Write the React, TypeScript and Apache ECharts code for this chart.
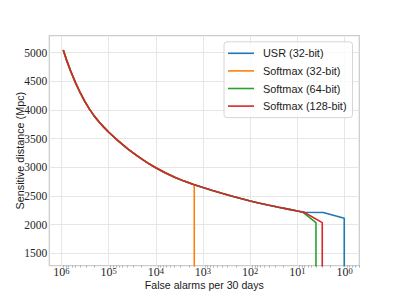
import React, { useEffect, useRef } from "react";
import * as echarts from "echarts";

// False alarms per 30 days (shared part of every curve) and sensitive distance (Mpc)
const sharedFar = [908000, 759000, 631000, 501000, 398000, 316000, 251000, 200000, 158000, 126000, 100000, 63100, 39800, 25100, 15800, 10000, 6310, 3980, 2510, 1580, 1000, 631, 398, 251, 158, 100, 63.1, 39.8, 25.1, 15.8, 10.0];
const sharedDist = [5047, 4852, 4676, 4477, 4301, 4146, 4011, 3893, 3791, 3701, 3616, 3464, 3327, 3203, 3091, 2992, 2904, 2828, 2759, 2700, 2646, 2594, 2546, 2498, 2454, 2412, 2373, 2337, 2303, 2270, 2239];

const usrTailFar = [6.92, 2.84, 1.02, 1.02];
const usrTailDist = [2216, 2212, 2110, 1000];

const sm32Cut = 1530;
const sm32TailFar = [1530, 1530];
const sm32TailDist = [2695, 1000];

const sm64TailFar = [7.5, 4.05, 4.05];
const sm64TailDist = [2211, 2034, 1000];

const sm128TailFar = [6.92, 2.98, 2.98];
const sm128TailDist = [2208, 2034, 1000];

const seriesNames = ["USR (32-bit)", "Softmax (32-bit)", "Softmax (64-bit)", "Softmax (128-bit)"];
const colors = ["#1f77b4", "#ff7f0e", "#2ca02c", "#d62728"];

const xMajorExp = [0, 1, 2, 3, 4, 5, 6];
const yTicks = [1500, 2000, 2500, 3000, 3500, 4000, 4500, 5000];

const xMinLog = -0.31;
const xMaxLog = 6.254;
const yMin = 1285;
const yMax = 5296;

function build(far: number[], dist: number[]) {
  return far.map((f, i) => [Math.log10(f), dist[i]]);
}

export default function App() {
  const ref = useRef<HTMLDivElement>(null);
  useEffect(() => {
    if (!ref.current) return;
    const chart = echarts.init(ref.current, undefined, { renderer: "svg" });

    const sharedCut = sharedFar.filter((f) => f > sm32Cut).length;
    const data = [
      build([...sharedFar, ...usrTailFar], [...sharedDist, ...usrTailDist]),
      build([...sharedFar.slice(0, sharedCut), ...sm32TailFar], [...sharedDist.slice(0, sharedCut), ...sm32TailDist]),
      build([...sharedFar, ...sm64TailFar], [...sharedDist, ...sm64TailDist]),
      build([...sharedFar, ...sm128TailFar], [...sharedDist, ...sm128TailDist]),
    ];

    const minor: number[] = [];
    for (let n = -1; n <= 6; n++) {
      for (let k = 2; k <= 9; k++) {
        const v = Math.log10(k * Math.pow(10, n));
        if (v > xMinLog && v < xMaxLog) minor.push(v);
      }
    }

    const gridColor = "#e3e3e3";

    chart.setOption({
      animation: false,
      backgroundColor: "#ffffff",
      grid: {
        left: 49.3,
        right: 39.7,
        top: 35.7,
        bottom: 33.4,
        show: true,
        borderColor: "#cccccc",
        borderWidth: 1.25,
        backgroundColor: "transparent",
        outerBoundsMode: "none",
        containLabel: false,
      },
      xAxis: [
        {
          type: "value",
          min: xMinLog,
          max: xMaxLog,
          inverse: true,
          name: "False alarms per 30 days",
          nameLocation: "middle",
          nameGap: 13.5,
          nameMoveOverlap: false,
          nameTextStyle: { fontFamily: "Liberation Sans", fontSize: 10.6, lineHeight: 11, color: "#1a1a1a" },
          axisLine: { show: false },
          splitLine: { show: false },
          axisTick: { show: false },
          axisLabel: {
            customValues: xMajorExp,
            margin: 0.5,
            formatter: (v: number) => `{b|10}{s|${Math.round(v)}}`,
            rich: {
              b: { fontFamily: "Liberation Serif", fontSize: 12, lineHeight: 12, color: "#262626", verticalAlign: "bottom" },
              s: { fontFamily: "Liberation Serif", fontSize: 8.5, lineHeight: 8, color: "#262626", verticalAlign: "top" },
            },
          },
        },
        {
          type: "value",
          min: xMinLog,
          max: xMaxLog,
          inverse: true,
          position: "bottom",
          axisLine: { show: false },
          splitLine: { show: false },
          axisLabel: { show: false },
          axisTick: {
            show: true,
            customValues: minor,
            length: 2,
            lineStyle: { color: "#888888", width: 0.6 },
          },
        },
      ],
      yAxis: {
        type: "value",
        min: yMin,
        max: yMax,
        name: "Sensitive distance (Mpc)",
        nameLocation: "middle",
        nameGap: 24,
        nameMoveOverlap: false,
        nameTextStyle: { fontFamily: "Liberation Sans", fontSize: 10.8, color: "#1a1a1a" },
        axisLine: { show: false },
        axisTick: { show: false },
        splitLine: { show: false },
        axisLabel: {
          customValues: yTicks,
          margin: 2,
          formatter: (v: number) => String(v),
          fontFamily: "Liberation Serif",
          fontSize: 11.5,
          color: "#262626",
        },
      },
      legend: {
        orient: "vertical",
        left: 224,
        top: 41.8,
        z: 20,
        padding: [5, 6, 5, 4],
        icon: "rect",
        itemWidth: 26,
        itemHeight: 1.6,
        itemGap: 4.6,
        backgroundColor: "rgba(255,255,255,0.8)",
        borderColor: "#d6d6d6",
        borderWidth: 1,
        borderRadius: 3,
        data: seriesNames,
        textStyle: { fontFamily: "Liberation Sans", fontSize: 10.9, color: "#1a1a1a", padding: [0, 0, 0, 4], lineHeight: 13 },
      },
      series: [
        {
          type: "line",
          name: "__grid",
          data: [],
          silent: true,
          z: 0,
          markLine: {
            silent: true,
            symbol: "none",
            animation: false,
            z: 0,
            label: { show: false },
            lineStyle: { color: gridColor, width: 0.9, type: "solid" },
            data: [
              ...xMajorExp.map((e) => ({ xAxis: e })),
              ...yTicks.map((t) => ({ yAxis: t })),
            ],
          },
        },
        ...seriesNames.map((name, i) => ({
          type: "line",
          name,
          data: data[i],
          symbol: "none",
          z: 2 + i,
          lineStyle: { color: colors[i], width: 1.6 },
          itemStyle: { color: colors[i] },
        })),
      ],
    });
    return () => chart.dispose();
  }, []);
  return <div ref={ref} style={{ width: 399, height: 299, position: "absolute", left: 0, top: 0 }} />;
}
